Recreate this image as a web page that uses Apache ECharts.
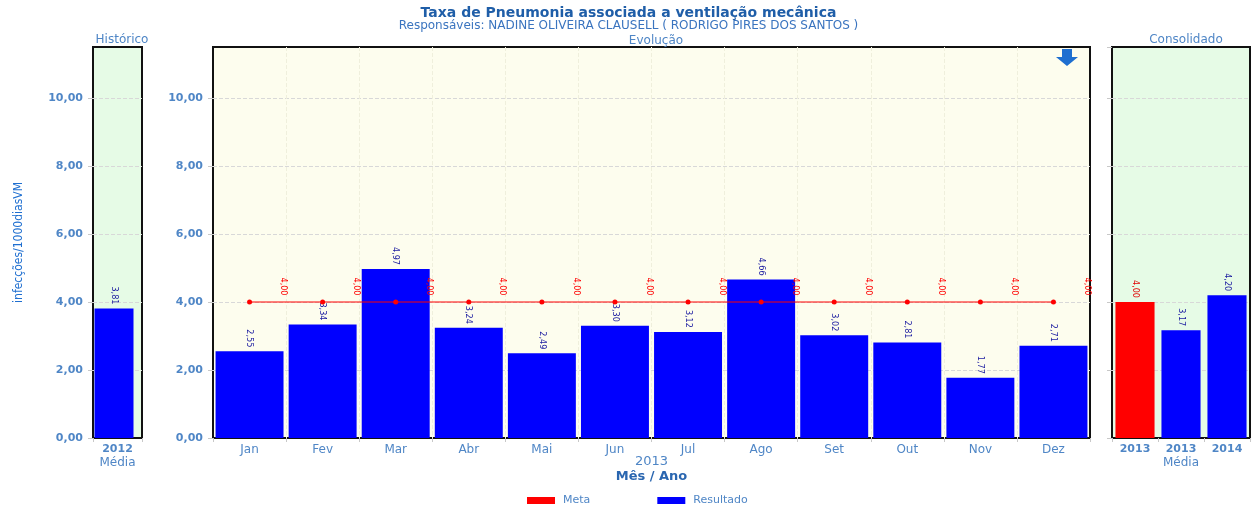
<!DOCTYPE html>
<html>
<head>
<meta charset="utf-8">
<script src="https://cdn.jsdelivr.net/npm/echarts@6/dist/echarts.min.js"></script>
<style>
  html, body { margin: 0; padding: 0; background: #fff; }
  #chart { width: 1257px; height: 506px; }
</style>
</head>
<body>
<div id="chart"></div>
<script>
// dados
var meses = ['Jan', 'Fev', 'Mar', 'Abr', 'Mai', 'Jun', 'Jul', 'Ago', 'Set', 'Out', 'Nov', 'Dez'];
var resultado = [2.55, 3.34, 4.97, 3.24, 2.49, 3.30, 3.12, 4.66, 3.02, 2.81, 1.77, 2.71];
var meta = [4.00, 4.00, 4.00, 4.00, 4.00, 4.00, 4.00, 4.00, 4.00, 4.00, 4.00, 4.00];
var historicoAnos = ['2012'];
var historicoMedia = [3.81];
var consolidadoAnos = ['2013', '2013', '2014'];
var consolidadoValores = [4.00, 3.17, 4.20];
var consolidadoTipo = ['Meta', 'Resultado', 'Resultado'];
var yTicks = [0, 2, 4, 6, 8, 10];

var AZUL = '#0000ff';
var VERMELHO = '#ff0000';
var TXT = '#4f86c6';
var FONTE = 'DejaVu Sans, Verdana, sans-serif';
var FONTE_ESTREITA = 'Liberation Sans Narrow, DejaVu Sans Condensed, Arial Narrow, sans-serif';

function fmt(v) {
    return v.toFixed(2).replace('.', ',');
}

var myChart = echarts.init(document.getElementById('chart'));

function yAxisCfg(idx, showLabels) {
    return {
        type: 'value',
        gridIndex: idx,
        min: 0,
        max: 11.5,
        interval: 2,
        axisLine: { show: false },
        axisTick: { show: true, length: 5, lineStyle: { color: '#c8c8c8' } },
        axisLabel: {
            show: showLabels,
            margin: 10,
            color: TXT,
            fontFamily: FONTE,
            fontWeight: 'bold',
            fontSize: 11,
            showMaxLabel: false,
            formatter: function (v) { return yTicks.indexOf(v) >= 0 ? fmt(v) : ''; }
        },
        splitLine: {
            show: true, showMinLine: false, showMaxLine: false,
            lineStyle: { color: '#d8d8d8', type: 'dashed' }
        }
    };
}

function xAxisCfg(idx, data, name) {
    return {
        type: 'category',
        gridIndex: idx,
        data: data,
        name: name,
        nameLocation: 'middle',
        nameGap: idx === 1 ? 17 : 18,
        nameMoveOverlap: false,
        nameTextStyle: {
            color: TXT, fontFamily: FONTE, fontSize: 12, lineHeight: 14,
            rich: {
                a: { color: TXT, fontFamily: FONTE, fontSize: 13, lineHeight: 14 },
                b: { color: '#2a66b0', fontFamily: FONTE, fontSize: 13, fontWeight: 'bold', lineHeight: 15 }
            }
        },
        axisLine: { show: false },
        axisTick: { show: true, length: 4, lineStyle: { color: '#c8c8c8' } },
        axisLabel: {
            color: TXT, fontFamily: FONTE, margin: 6,
            fontSize: idx === 1 ? 12 : 11,
            fontWeight: idx === 1 ? 'normal' : 'bold'
        },
        splitLine: {
            show: idx === 1, showMinLine: false, showMaxLine: false,
            lineStyle: { color: '#efefdc', type: 'dashed' }
        }
    };
}

var gridBase = { show: true, borderColor: '#111', borderWidth: 2, top: 47, height: 391 };

myChart.setOption({
    animation: false,
    title: [
        {
            text: 'Taxa de Pneumonia associada a ventilação mecânica',
            subtext: 'Responsáveis: NADINE OLIVEIRA CLAUSELL ( RODRIGO PIRES DOS SANTOS )',
            left: 'center', top: 1, itemGap: 0,
            textStyle: { color: '#1f5ea8', fontFamily: FONTE, fontSize: 14, fontWeight: 'bold' },
            subtextStyle: { color: '#3a74bf', fontFamily: FONTE, fontSize: 12 }
        },
        { text: 'Histórico', left: 117, textAlign: 'center', top: 29, textStyle: { color: TXT, fontFamily: FONTE, fontSize: 12, fontWeight: 'normal' } },
        { text: 'Evolução', left: 651, textAlign: 'center', top: 30, textStyle: { color: TXT, fontFamily: FONTE, fontSize: 12, fontWeight: 'normal' } },
        { text: 'Consolidado', left: 1181, textAlign: 'center', top: 29, textStyle: { color: TXT, fontFamily: FONTE, fontSize: 12, fontWeight: 'normal' } }
    ],
    legend: {
        top: 495,
        left: 527,
        padding: 0,
        itemWidth: 28,
        itemHeight: 7,
        itemGap: 67,
        icon: 'rect',
        data: ['Meta', 'Resultado'],
        textStyle: { color: TXT, fontFamily: FONTE, fontSize: 11, padding: [0, 0, 0, 3] }
    },
    grid: [
        Object.assign({ left: 93, width: 49, backgroundColor: '#e6fbe6' }, gridBase),
        Object.assign({ left: 213, width: 877, backgroundColor: '#fdfdee' }, gridBase),
        Object.assign({ left: 1112, width: 138, backgroundColor: '#e6fbe6' }, gridBase)
    ],
    xAxis: [
        xAxisCfg(0, historicoAnos, 'Média'),
        xAxisCfg(1, meses, '{a|2013}\n{b|Mês / Ano}'),
        xAxisCfg(2, consolidadoAnos, 'Média')
    ],
    yAxis: [
        Object.assign(yAxisCfg(0, true), {
            name: 'infecções/1000diasVM',
            nameLocation: 'middle',
            nameGap: 68,
            nameTextStyle: { color: '#1f6fd0', fontFamily: FONTE_ESTREITA, fontSize: 12 }
        }),
        yAxisCfg(1, true),
        yAxisCfg(2, false)
    ],
    graphic: [
        {
            type: 'polygon',
            left: 1056, top: 49,
            shape: { points: [[6, 0], [16, 0], [16, 8], [22, 8], [11, 17], [0, 8], [6, 8]] },
            style: { fill: '#1e6fd0' },
            z: 100
        }
    ],
    series: [
        {
            name: 'Resultado',
            type: 'bar',
            xAxisIndex: 0, yAxisIndex: 0,
            data: historicoMedia,
            barWidth: 39,
            barGap: 0,
            itemStyle: { color: AZUL },
            label: {
                show: true, position: 'top', distance: 4, rotate: -90,
                align: 'right', verticalAlign: 'middle',
                color: '#1a1aa0', fontFamily: FONTE_ESTREITA, fontSize: 9,
                formatter: function (p) { return fmt(p.value); }
            }
        },
        {
            name: 'vazio',
            type: 'bar',
            xAxisIndex: 0, yAxisIndex: 0,
            data: historicoMedia.map(function () { return null; }),
            barWidth: 7,
            barGap: 0
        },
        {
            name: 'Resultado',
            type: 'bar',
            xAxisIndex: 1, yAxisIndex: 1,
            data: resultado,
            barCategoryGap: '7%',
            itemStyle: { color: AZUL },
            label: {
                show: true, position: 'top', distance: 4, rotate: -90,
                align: 'right', verticalAlign: 'middle',
                color: '#1a1aa0', fontFamily: FONTE_ESTREITA, fontSize: 9,
                formatter: function (p) { return fmt(p.value); }
            }
        },
        {
            name: 'Meta',
            type: 'line',
            xAxisIndex: 1, yAxisIndex: 1,
            data: meta,
            color: VERMELHO,
            z: 5,
            symbol: 'circle',
            symbolSize: 5,
            lineStyle: { color: VERMELHO, width: 1 },
            itemStyle: { color: VERMELHO },
            label: {
                show: true, position: 'top', distance: 4, rotate: -90,
                align: 'right', verticalAlign: 'middle',
                offset: [0, -34],
                color: VERMELHO, fontFamily: FONTE_ESTREITA, fontSize: 9,
                formatter: function (p) { return fmt(p.value); }
            }
        },
        {
            name: 'Resultado',
            type: 'bar',
            xAxisIndex: 2, yAxisIndex: 2,
            barCategoryGap: '15%',
            data: consolidadoValores.map(function (v, i) {
                var cor = consolidadoTipo[i] === 'Meta' ? VERMELHO : AZUL;
                return {
                    value: v,
                    itemStyle: { color: cor },
                    label: { color: consolidadoTipo[i] === 'Meta' ? '#e00000' : '#1a1aa0' }
                };
            }),
            label: {
                show: true, position: 'top', distance: 4, rotate: -90,
                align: 'right', verticalAlign: 'middle',
                fontFamily: FONTE_ESTREITA, fontSize: 9,
                formatter: function (p) { return fmt(p.value); }
            }
        }
    ]
});
</script>
</body>
</html>
